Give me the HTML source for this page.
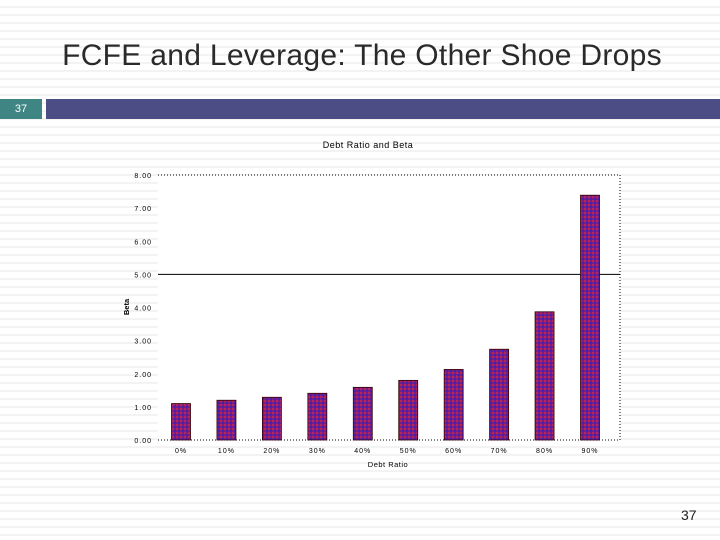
<!DOCTYPE html>
<html><head><meta charset="utf-8"><style>
html,body{margin:0;padding:0}
body{width:720px;height:540px;position:relative;overflow:hidden;background:#fff repeating-linear-gradient(to bottom,#fff 0,#fff 6px,#f3f3f3 6px,#f3f3f3 8px);font-family:"Liberation Sans",sans-serif}
.t{position:absolute}
</style></head><body>
<div class="t" style="left:0;width:724px;top:39px;text-align:center;font-size:30px;color:#2a2a2a;letter-spacing:0.3px">FCFE and Leverage: The Other Shoe Drops</div>
<div class="t" style="left:0;top:99px;width:42px;height:20px;background:#3e8583;color:#fff;font-size:11px;text-align:center;line-height:20px">37</div>
<div class="t" style="left:46px;top:99px;width:674px;height:20px;background:#4d4d86"></div>
<div class="t" style="left:681px;top:507px;font-size:14px;color:#222">37</div>
<svg class="t" style="left:0;top:0" width="720" height="540">
<defs><pattern id="pp" width="4" height="4" patternUnits="userSpaceOnUse"><rect width="4" height="4" fill="#7a1f80"/><rect width="2" height="2" fill="#b8225a"/><rect x="2" y="2" width="2" height="2" fill="#4a1fb0"/></pattern></defs>
<rect x="158" y="175" width="462" height="265" fill="#fff"/>
<g id="g"></g>
</svg>
<script>
const categories=["0%","10%","20%","30%","40%","50%","60%","70%","80%","90%"];
const betas=[1.10,1.20,1.29,1.41,1.59,1.80,2.13,2.74,3.87,7.39];
const yTicks=[0,1,2,3,4,5,6,7,8];
const yTickLabels=["0.00","1.00","2.00","3.00","4.00","5.00","6.00","7.00","8.00"];
const ns="http://www.w3.org/2000/svg",g=document.getElementById('g');
const x0=158,x1=620,yB=440,yT=175;
const y=v=>yB-(v/8)*(yB-yT);
const xc=i=>181+i*(590-181)/(categories.length-1);
function mk(t,a,txt){const e=document.createElementNS(ns,t);for(const k in a)e.setAttribute(k,a[k]);if(txt!=null)e.textContent=txt;g.appendChild(e);return e;}
let e;
e=mk('path',{d:`M${x0} ${yT}H${x1}V${yB}H${x0}`,fill:'none',stroke:'#000','stroke-width':1,'stroke-dasharray':'1,2'});


e=mk('line',{x1:x0,x2:x1,y1:y(5),y2:y(5),stroke:'#000','stroke-width':1});


yTicks.forEach((v,i)=>{e=mk('text',{x:152,y:y(v)+3,'text-anchor':'end','font-size':7,fill:'#000','letter-spacing':'1'},yTickLabels[i]);

});
betas.forEach((v,i)=>{e=mk('rect',{x:xc(i)-9.5,y:y(v),width:19,height:yB-y(v),fill:'url(#pp)',stroke:'#300','stroke-width':0.8});


e=mk('text',{x:xc(i),y:453,'text-anchor':'middle','font-size':7,fill:'#000','letter-spacing':'1'},categories[i]);

});
e=mk('text',{x:368,y:148,'text-anchor':'middle','font-size':9,fill:'#000','letter-spacing':'0.5'},'Debt  Ratio  and  Beta');


e=mk('text',{x:388,y:467,'text-anchor':'middle','font-size':7.5,fill:'#000','letter-spacing':'0.5'},'Debt  Ratio');


e=mk('text',{x:0,y:0,'text-anchor':'middle','font-size':7.5,'font-weight':'bold',fill:'#000',transform:'translate(129,307) rotate(-90)'},'Beta');


</script>
</body></html>
